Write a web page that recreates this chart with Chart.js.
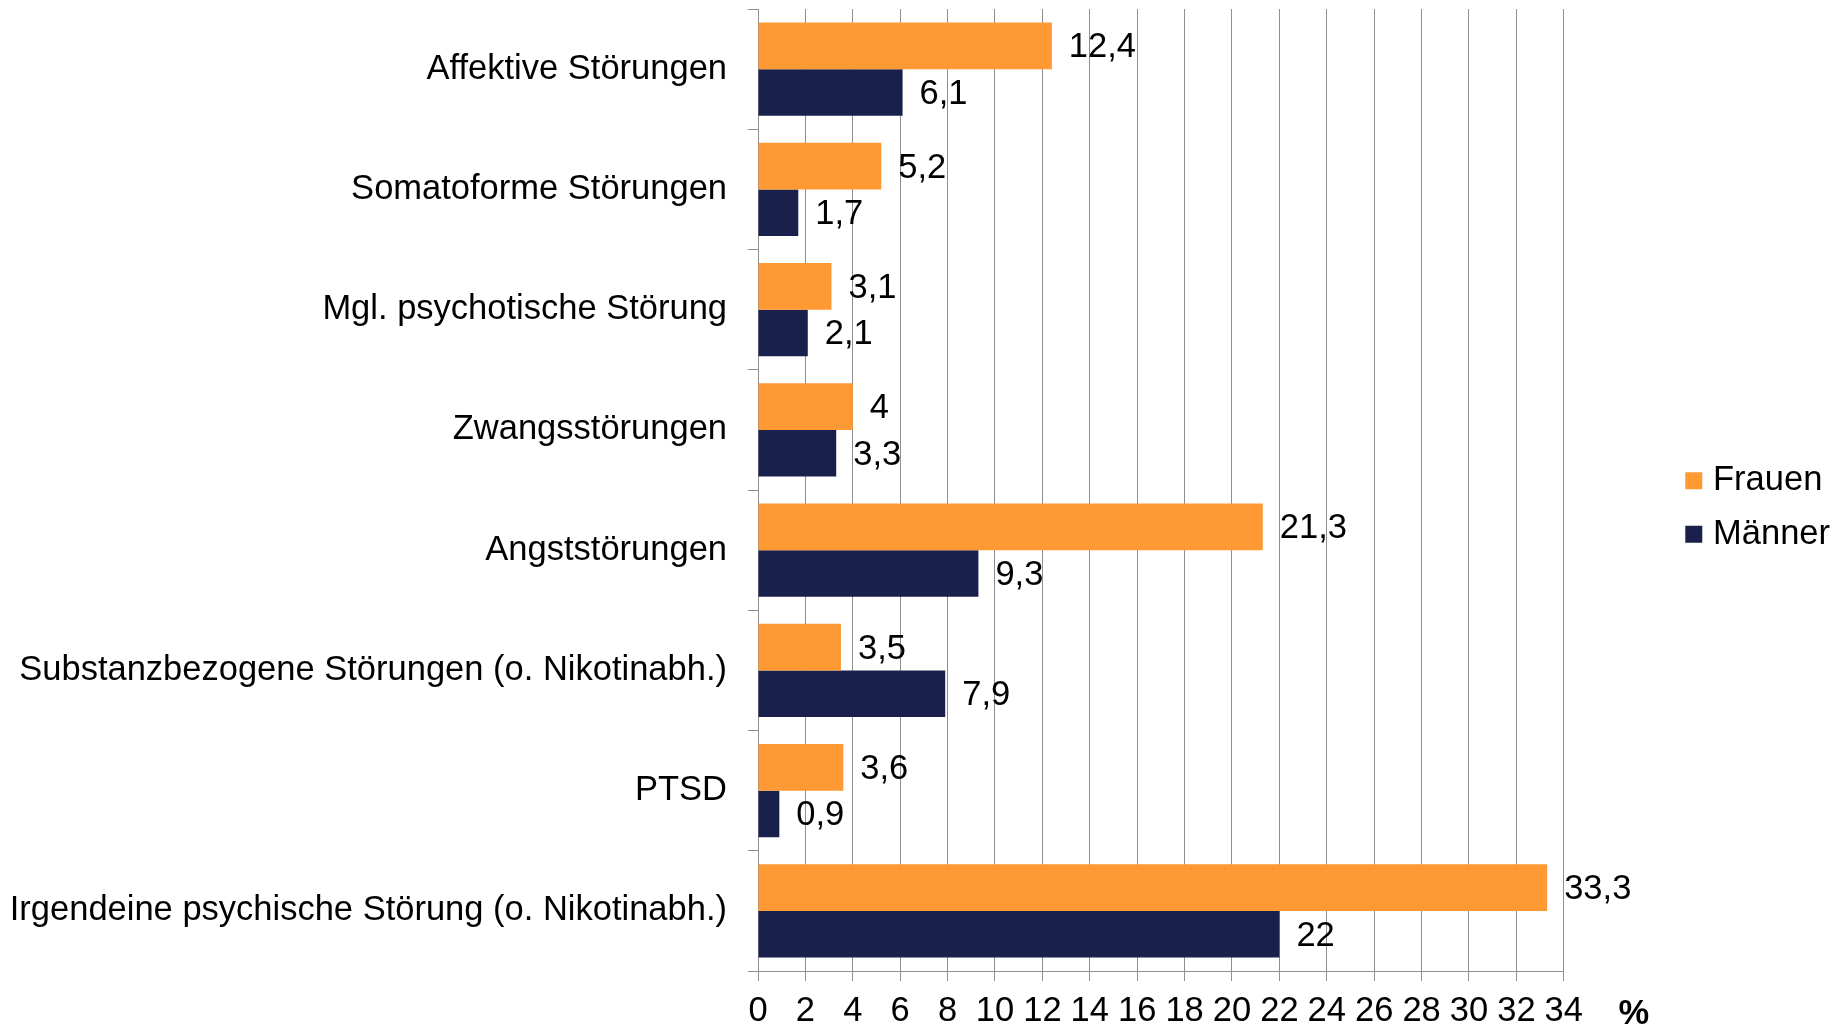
<!DOCTYPE html>
<html lang="de">
<head>
<meta charset="utf-8">
<title>Psychische Störungen nach Geschlecht</title>
<script src="https://cdn.jsdelivr.net/npm/chart.js@4.4.1/dist/chart.umd.min.js"></script>
<style>
    html, body { margin: 0; padding: 0; background: #fff; }
    #wrap { position: relative; width: 1846px; height: 1028px; }
</style>
</head>
<body>
<div id="wrap"><canvas id="chart"></canvas></div>
<script>
// Daten
const categories = [
    'Affektive Störungen',
    'Somatoforme Störungen',
    'Mgl. psychotische Störung',
    'Zwangsstörungen',
    'Angststörungen',
    'Substanzbezogene Störungen (o. Nikotinabh.)',
    'PTSD',
    'Irgendeine psychische Störung (o. Nikotinabh.)'
];
const frauen = [12.4, 5.2, 3.1, 4, 21.3, 3.5, 3.6, 33.3];
const maenner = [6.1, 1.7, 2.1, 3.3, 9.3, 7.9, 0.9, 22];
const seriesNames = ['Frauen', 'Männer'];
const axisMin = 0;
const axisMax = 34;
const axisStep = 2;
const axisUnit = '%';

const FONT = 'Liberation Sans, Arial, sans-serif';
const FONT_SIZE = 34.5;
const GRID = '#8e8e8e';

// Werte neben den Balken (mit Dezimalkomma)
const valueLabels = {
    id: 'valueLabels',
    afterDatasetsDraw(chart) {
        const ctx = chart.ctx;
        ctx.save();
        ctx.font = FONT_SIZE + 'px ' + FONT;
        ctx.fillStyle = '#000';
        ctx.textAlign = 'left';
        ctx.textBaseline = 'middle';
        chart.data.datasets.forEach((ds, i) => {
            chart.getDatasetMeta(i).data.forEach((bar, j) => {
                const text = String(ds.data[j]).replace('.', ',');
                ctx.fillText(text, bar.x + 17, bar.y + 2);
            });
        });
        ctx.restore();
    }
};

// Einheit rechts neben der x-Achse
const unitLabel = {
    id: 'unitLabel',
    afterDraw(chart) {
        const x = chart.scales.x;
        const ctx = chart.ctx;
        ctx.save();
        ctx.font = 'bold ' + FONT_SIZE + 'px ' + FONT;
        ctx.fillStyle = '#000';
        ctx.textAlign = 'center';
        ctx.textBaseline = 'alphabetic';
        ctx.fillText(axisUnit, x.right + 70, x.top + 53);
        ctx.restore();
    }
};

// Legende etwas vom Diagramm abrücken
const legendOffset = {
    id: 'legendOffset',
    beforeLayout(chart, args, opts) {
        const legend = chart.legend;
        if (legend && !legend._patched) {
            const fit = legend.fit;
            legend.fit = function() {
                fit.call(this);
                this.width += opts.extraWidth;
            };
            legend._patched = true;
        }
    },
    afterLayout(chart, args, opts) {
        chart.legend.left += opts.shiftX;
        chart.legend.right += opts.shiftX;
        chart.legend.top += opts.shiftY;
        chart.legend.bottom += opts.shiftY;
    }
};

new Chart(document.getElementById('chart'), {
    type: 'bar',
    data: {
        labels: categories,
        datasets: [
            {
                label: seriesNames[0],
                data: frauen,
                backgroundColor: '#FF9933',
                borderWidth: 0,
                categoryPercentage: 0.775,
                barPercentage: 1
            },
            {
                label: seriesNames[1],
                data: maenner,
                backgroundColor: '#1A204C',
                borderWidth: 0,
                categoryPercentage: 0.775,
                barPercentage: 1
            }
        ]
    },
    options: {
        indexAxis: 'y',
        responsive: true,
        maintainAspectRatio: false,
        animation: false,
        layout: { padding: { top: 9, left: 0, right: 0, bottom: 0 } },
        scales: {
            x: {
                min: axisMin,
                max: axisMax,
                afterFit(scale) { scale.height = 57; },
                ticks: {
                    stepSize: axisStep,
                    autoSkip: false,
                    maxRotation: 0,
                    padding: 10,
                    color: '#000',
                    font: { family: FONT, size: FONT_SIZE }
                },
                grid: { color: GRID, lineWidth: 1, tickLength: 10 },
                border: { color: GRID, width: 1 }
            },
            y: {
                afterFit(scale) {
                    scale.width = 758;
                    // Kategorien sind versetzt, kein Platz oben/unten nötig
                    scale.paddingTop = 0;
                    scale.paddingBottom = 0;
                },
                ticks: {
                    padding: 21,
                    color: '#000',
                    font: { family: FONT, size: FONT_SIZE }
                },
                grid: { drawOnChartArea: false, color: GRID, lineWidth: 1, tickLength: 10 },
                border: { color: GRID, width: 1 }
            }
        },
        plugins: {
            legend: {
                position: 'right',
                labels: {
                    color: '#000',
                    font: { family: FONT, size: FONT_SIZE },
                    usePointStyle: true,
                    pointStyle: 'rect',
                    boxWidth: 4,
                    boxHeight: 17,
                    padding: 19
                }
            },
            legendOffset: { extraWidth: 115, shiftX: 109, shiftY: -11 },
            tooltip: { enabled: false }
        }
    },
    plugins: [valueLabels, unitLabel, legendOffset]
});
</script>
</body>
</html>
